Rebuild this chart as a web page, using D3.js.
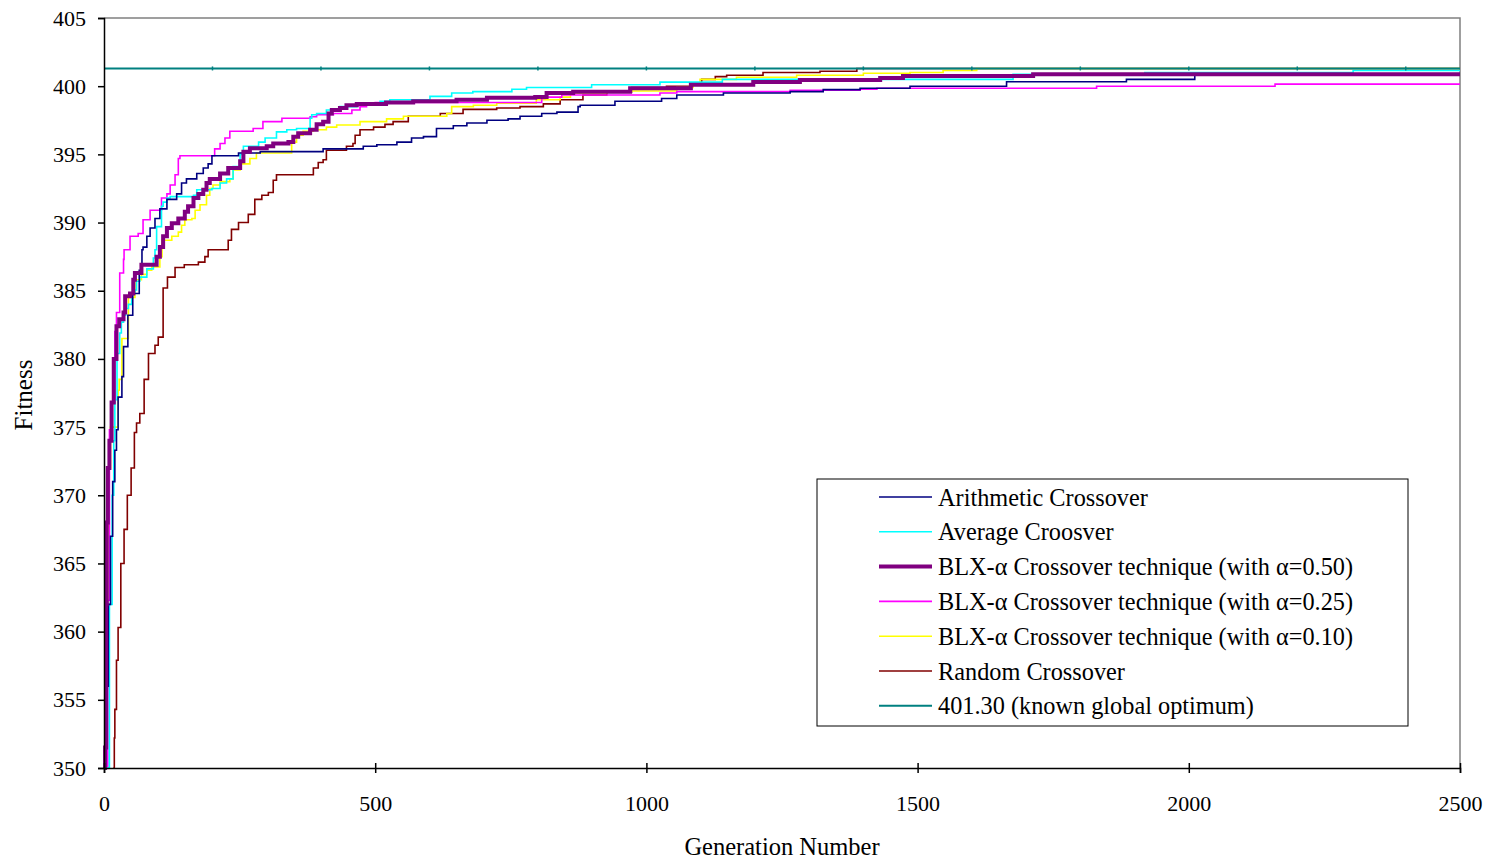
<!DOCTYPE html>
<html>
<head>
<meta charset="utf-8">
<script src="https://cdn.jsdelivr.net/npm/d3@7"></script>
<style>
  body { margin: 0; background: #fff; }
  text { font-family: "Liberation Serif", "Times New Roman", serif; fill: #000; }
</style>
</head>
<body>
<svg id="chart" width="1492" height="863"></svg>
<script>
// Data: [generation, best fitness] step points
const arithmetic = [[0,350],[2,351.5],[5,356],[8,362],[12,367],[16,371],[20,373.3],[23,374.8],[26,377.2],[33,378.7],[36,380.9],[44,383.2],[53,384.8],[65,386.5],[70,388],[72,388.2],[79,389],[85,389.6],[94,390.3],[103,391],[116,391.7],[134,392.1],[143,392.9],[152,393.2],[171,393.6],[183,394],[192,394.3],[199,394.9],[248,395.1],[288,395.2],[404,395.4],[478,395.6],[503,395.7],[540,395.9],[567,396.2],[589,396.3],[613,396.9],[644,397.1],[669,397.3],[706,397.5],[745,397.6],[767,397.8],[807,398],[835,398.1],[874,398.5],[878,398.6],[942,398.9],[1028,399.1],[1056,399.35],[1142,399.5],[1265,399.6],[1326,399.75],[1394,399.85],[1486,400.0],[1664,400.33],[1885,400.5],[2011,400.8],[2500,400.8]];

const average = [[5,350],[10,362],[15,370],[18,374],[20,377],[24,380.4],[29,381.9],[32,382.7],[36,383.2],[40,383.7],[45,384],[51,384.8],[57,385.05],[60,385.7],[66,386],[79,386.6],[91,387.4],[94,388],[97,389.7],[106,391.2],[109,391.5],[116,391.8],[122,391.9],[165,392.0],[171,392.4],[199,392.5],[214,392.9],[226,393.2],[238,394.1],[251,395],[257,395.6],[285,395.9],[297,396.2],[318,396.65],[337,396.8],[355,396.9],[380,397.65],[383,397.9],[392,398.0],[410,398.25],[435,398.5],[466,398.75],[509,398.9],[527,399.0],[601,399.25],[641,399.5],[680,399.6],[752,399.77],[779,399.9],[899,400.1],[1025,400.3],[1140,400.5],[1676,400.87],[1919,401.0],[2303,401.15],[2500,401.15]];

const blx50 = [[0,350],[2,351.5],[4,362],[5,368],[7,372],[10,374],[14,376.8],[18,380],[23,382.4],[28,382.9],[36,383.4],[39,384.6],[48,384.8],[54,385.8],[57,386.3],[69,386.9],[97,387.5],[103,388.2],[109,389.0],[116,389.6],[125,389.95],[137,390.3],[149,390.8],[155,391.2],[165,391.8],[174,392.1],[183,392.4],[189,392.9],[195,393.2],[214,393.6],[229,394.0],[251,394.5],[257,395.2],[269,395.45],[300,395.6],[312,395.8],[340,395.9],[349,396.3],[358,396.55],[380,396.8],[392,397.2],[404,397.4],[414,398.0],[420,398.25],[435,398.4],[447,398.6],[466,398.7],[520,398.8],[570,398.9],[650,399.0],[706,399.15],[795,399.2],[816,399.5],[865,399.6],[970,399.85],[1082,400.1],[1197,400.3],[1283,400.45],[1431,400.6],[1473,400.75],[1713,400.87],[2500,400.87]];

const blx25 = [[3,350],[7,362.3],[10,374.8],[15,376.8],[20,382],[23,383.4],[29,386.3],[36,387.3],[37,388],[48,389],[63,389.2],[72,390.2],[85,390.9],[106,391.8],[116,392.1],[122,392.75],[131,393.5],[137,394.7],[140,394.9],[204,395.4],[214,395.8],[223,396.2],[232,396.7],[275,396.9],[293,397.4],[328,397.65],[380,397.76],[392,397.9],[423,398.0],[457,398.25],[472,398.5],[484,398.6],[500,398.8],[807,399.1],[813,399.2],[844,399.35],[1025,399.5],[1056,399.6],[1265,399.7],[1394,399.77],[1425,399.85],[1830,400.0],[2159,400.15],[2500,400.15]];

const blx10 = [[2,350],[5,360],[7,367.7],[9,372],[12,375],[26,377.7],[28,378.5],[33,381.5],[45,384.5],[57,385.8],[69,386.2],[79,386.5],[88,386.75],[103,387.5],[107,388.7],[125,389.0],[137,389.3],[143,389.8],[149,390.2],[162,390.3],[168,390.9],[177,391.3],[189,392.0],[195,392.5],[201,392.75],[214,393.0],[232,393.2],[238,393.85],[251,394.3],[269,394.7],[281,395.1],[346,395.9],[355,396.4],[367,396.7],[386,396.8],[410,397.0],[429,397.15],[472,397.4],[521,397.6],[552,397.8],[632,398.0],[641,398.5],[681,398.6],[724,398.75],[797,399.0],[841,399.2],[860,399.5],[927,399.65],[1056,399.9],[1086,400.2],[1099,400.5],[1166,400.65],[1277,400.8],[1400,400.95],[1486,401.0],[1547,401.15],[1609,401.3],[2500,401.3]];

const random = [[17,350],[19,352.2],[20,354.3],[23,357.9],[26,360.3],[31,365],[37,367.5],[43,370],[50,372],[56,374.6],[60,375.3],[66,376],[74,378.5],[82,380.4],[94,381],[100,381.6],[109,385.2],[117,386],[131,386.7],[148,386.9],[174,387.1],[186,387.5],[192,388],[229,388.7],[235,389.5],[248,390],[266,390.6],[278,391.7],[291,392],[303,392.2],[312,393.1],[318,393.5],[386,394],[395,394.4],[404,394.6],[410,395.3],[447,395.6],[459,395.8],[463,396.4],[472,396.8],[497,397],[518,397.2],[533,397.4],[561,397.8],[620,398],[662,398.3],[724,398.4],[767,398.5],[810,398.7],[841,399],[883,399.35],[927,399.6],[973,399.9],[1037,400.0],[1086,400.2],[1102,400.5],[1127,400.7],[1148,400.8],[1215,401.0],[1320,401.1],[1388,401.3],[2500,401.3]];

const optimum = 401.30;
const optimumMarks = [200, 400, 600, 800, 1000, 1200, 1400, 1600, 1800, 2000, 2200, 2400];

const seriesNames = [
  "Arithmetic Crossover",
  "Average Croosver",
  "BLX-\u03b1 Crossover technique (with \u03b1=0.50)",
  "BLX-\u03b1 Crossover technique (with \u03b1=0.25)",
  "BLX-\u03b1 Crossover technique (with \u03b1=0.10)",
  "Random Crossover",
  "401.30 (known global optimum)"
];
const seriesColors = ["#000080", "#00ffff", "#800080", "#ff00ff", "#ffff00", "#800000", "#008080"];
const seriesWidths = [1.6, 1.6, 4, 1.6, 1.6, 1.6, 2];

const xTicks = [0, 500, 1000, 1500, 2000, 2500];
const yTicks = [350, 355, 360, 365, 370, 375, 380, 385, 390, 395, 400, 405];

const svg = d3.select("#chart");
const plotLeft = 104, plotRight = 1460, plotTop = 18, plotBottom = 768;

const x = d3.scaleLinear().domain([0, 2500]).range([plotLeft, plotRight]);
const y = d3.scaleLinear().domain([350, 405]).range([plotBottom, plotTop]);

// frame (top/right in grey)
svg.append("path")
   .attr("d", `M${plotLeft},${plotTop}H${plotRight}V${plotBottom}`)
   .attr("fill", "none")
   .attr("stroke", "#808080")
   .attr("stroke-width", 1.5);

const line = d3.line()
   .x(d => x(d[0]))
   .y(d => y(d[1]))
   .curve(d3.curveStepAfter);

// draw order: random, yellow, magenta, cyan, navy, purple, then optimum
const drawOrder = [5, 4, 3, 1, 0, 2];
const allData = [arithmetic, average, blx50, blx25, blx10, random];
drawOrder.forEach(i => {
  svg.append("path")
     .datum(allData[i])
     .attr("d", line)
     .attr("fill", "none")
     .attr("stroke", seriesColors[i])
     .attr("stroke-width", seriesWidths[i]);
});

svg.append("line")
   .attr("x1", x(0)).attr("x2", x(2500))
   .attr("y1", y(optimum)).attr("y2", y(optimum))
   .attr("stroke", seriesColors[6])
   .attr("stroke-width", seriesWidths[6]);

svg.selectAll(".omark")
   .data(optimumMarks)
   .enter().append("line")
   .attr("x1", d => x(d)).attr("x2", d => x(d))
   .attr("y1", y(optimum) - 2).attr("y2", y(optimum) + 2)
   .attr("stroke", seriesColors[6])
   .attr("stroke-width", 1.5);

// axes
const yAxis = d3.axisLeft(y).tickValues(yTicks).tickSize(6).tickPadding(12).tickFormat(d3.format("d"));
const gy = svg.append("g").attr("transform", `translate(${plotLeft},0)`).call(yAxis);
gy.select(".domain").attr("stroke", "#000").attr("stroke-width", 1.5);
gy.selectAll(".tick line").attr("stroke", "#000").attr("stroke-width", 1.5);
gy.selectAll("text").style("font-size", "22px").style("font-family", "Liberation Serif");

const xAxis = d3.axisBottom(x).tickValues(xTicks).tickSize(5).tickPadding(22).tickFormat(d3.format("d"));
const gx = svg.append("g").attr("transform", `translate(0,${plotBottom})`).call(xAxis);
gx.select(".domain").attr("stroke", "#000").attr("stroke-width", 1.5);
gx.selectAll(".tick line").attr("y1", -5).attr("stroke", "#000").attr("stroke-width", 1.5);
gx.selectAll("text").style("font-size", "22px").style("font-family", "Liberation Serif");

svg.append("text")
   .attr("x", (plotLeft + plotRight) / 2)
   .attr("y", 855)
   .attr("text-anchor", "middle")
   .style("font-size", "24.5px")
   .text("Generation Number");

svg.append("text")
   .attr("transform", "translate(32,395) rotate(-90)")
   .attr("text-anchor", "middle")
   .style("font-size", "25px")
   .text("Fitness");

// legend
const legend = svg.append("g").attr("transform", "translate(817,479)");
legend.append("rect")
   .attr("width", 591).attr("height", 247)
   .attr("fill", "#fff")
   .attr("stroke", "#000").attr("stroke-width", 1);

const rows = legend.selectAll(".row")
   .data(seriesNames)
   .enter().append("g")
   .attr("transform", (d, i) => `translate(0,${18 + i * 34.8})`);

rows.append("line")
   .attr("x1", 62).attr("x2", 115)
   .attr("stroke", (d, i) => seriesColors[i])
   .attr("stroke-width", (d, i) => seriesWidths[i]);

rows.append("text")
   .attr("x", 121)
   .attr("dy", "0.35em")
   .style("font-size", "24.3px")
   .text(d => d);
</script>
</body>
</html>
